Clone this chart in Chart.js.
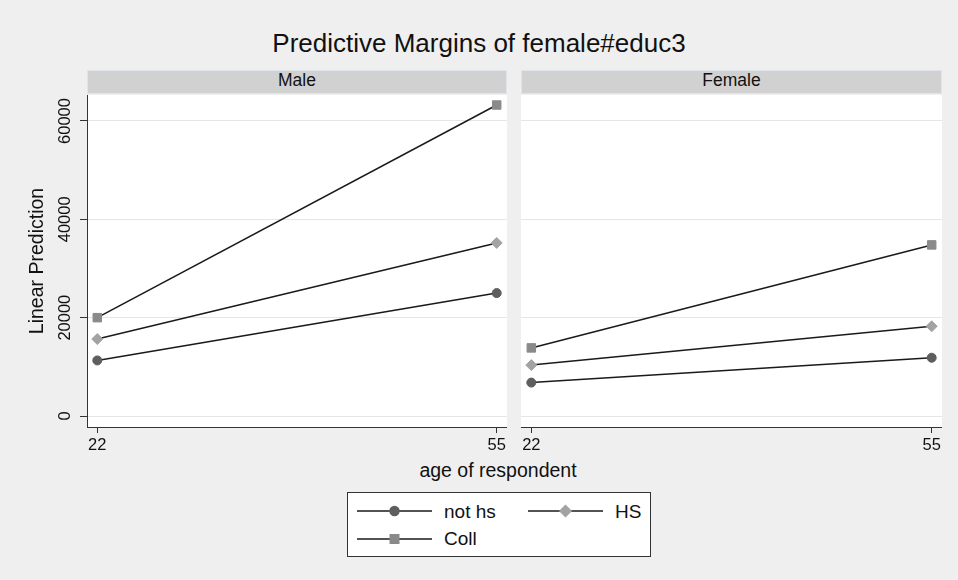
<!DOCTYPE html>
<html>
<head>
<meta charset="utf-8">
<script src="https://cdn.jsdelivr.net/npm/chart.js@4/dist/chart.umd.min.js"></script>
<style>
  body { margin: 0; background: #efefef; font-family: "Liberation Sans", Arial, sans-serif; color: #111; }
  #wrap { position: relative; width: 958px; height: 580px; overflow: hidden; background: #efefef; }
  .abs { position: absolute; }
  #title { left: 0; width: 958px; top: 30px; text-align: center; font-size: 26px; line-height: 26px; }
  .strip { top: 70px; height: 24px; line-height: 20px; background: #d1d1d1; text-align: center; font-size: 17.5px;
           box-shadow: inset 0 0 0 1px #dfe5ea; }
  #xtitle { left: 398px; width: 200px; top: 461px; text-align: center; font-size: 19.5px; line-height: 19.5px; white-space: nowrap; }
  #legend { left: 347px; top: 492px; width: 304px; height: 65px; box-sizing: border-box; background: #fff; border: 1px solid #333; }
  .item { position: absolute; display: flex; align-items: center; height: 20px; font-size: 19px; line-height: 19px; }
  .item canvas { margin-right: 12px; }
</style>
</head>
<body>
<div id="wrap">
  <div id="title" class="abs">Predictive Margins of female#educ3</div>
  <div class="abs strip" style="left:87px;width:420px;">Male</div>
  <div class="abs strip" style="left:521px;width:421px;">Female</div>
  <canvas id="male" class="abs" width="507" height="360" style="left:0;top:95px;"></canvas>
  <canvas id="female" class="abs" width="421" height="360" style="left:521px;top:95px;"></canvas>
  <div id="xtitle" class="abs">age of respondent</div>
  <div id="legend" class="abs"></div>
</div>
<script>
// data
const ages = [22, 55];
const seriesNames = ['not hs', 'HS', 'Coll'];
const maleNotHs = [11300, 25000];
const maleHs = [15650, 35200];
const maleColl = [20000, 63250];
const femaleNotHs = [6800, 11850];
const femaleHs = [10350, 18250];
const femaleColl = [13850, 34800];
const yTicks = [0, 20000, 40000, 60000];
const xTicks = [22, 55];
const yRange = [-2237, 65288];
const xRange = [21.15, 55.85];

// styles
const lineColor = '#1a1a1a';
const pointColors = ['#5e5e5e', '#a3a3a3', '#8a8a8a'];
const pointStyles = ['circle', 'rectRot', 'rect'];
const pointRadii = [4.5, 5.5, 6];
const fontFamily = '"Liberation Sans", Arial, sans-serif';

const plotBg = {
  id: 'plotBg',
  beforeDraw(chart) {
    const { ctx, chartArea: a } = chart;
    ctx.save();
    ctx.fillStyle = '#fff';
    ctx.fillRect(a.left, a.top, a.right - a.left, a.bottom - a.top);
    ctx.restore();
  }
};

function makeDatasets(values) {
  return values.map((vals, i) => ({
    label: seriesNames[i],
    data: ages.map((a, j) => ({ x: a, y: vals[j] })),
    borderColor: lineColor,
    borderWidth: 1.5,
    pointStyle: pointStyles[i],
    pointRadius: pointRadii[i],
    pointBackgroundColor: pointColors[i],
    pointBorderColor: pointColors[i],
    pointBorderWidth: 1,
    clip: false
  }));
}

function makePanel(id, values, showY) {
  const ctx = document.getElementById(id).getContext('2d');
  return new Chart(ctx, {
    type: 'line',
    data: { datasets: makeDatasets(values) },
    plugins: [plotBg],
    options: {
      responsive: false,
      animation: false,
      layout: { padding: 0, autoPadding: false },
      plugins: { legend: { display: false }, tooltip: { enabled: false } },
      scales: {
        x: {
          type: 'linear',
          min: xRange[0],
          max: xRange[1],
          afterBuildTicks: s => { s.ticks = xTicks.map(v => ({ value: v })); },
          afterFit: s => { s.height = 28; s.paddingLeft = 0; s.paddingRight = 0; },
          border: { display: true, color: '#333', width: 1 },
          grid: { drawOnChartArea: false, tickLength: 6, tickColor: '#333', tickWidth: 1 },
          ticks: {
            autoSkip: false, maxRotation: 0, padding: 3, color: '#111',
            font: { family: fontFamily, size: 16.5 },
            callback: v => String(v)
          }
        },
        y: {
          min: yRange[0],
          max: yRange[1],
          afterBuildTicks: s => { s.ticks = yTicks.map(v => ({ value: v })); },
          afterFit: s => { s.width = showY ? 87 : 0; s.paddingTop = 0; s.paddingBottom = 0; },
          border: { display: showY, color: '#333', width: 1 },
          grid: { color: '#e6e6e6', lineWidth: 1, drawTicks: showY, tickLength: 7, tickColor: '#333' },
          ticks: {
            display: showY, autoSkip: false, minRotation: 90, maxRotation: 90,
            crossAlign: 'center', padding: -8, color: '#111',
            font: { family: fontFamily, size: 16.5 },
            callback: v => String(v)
          },
          title: {
            display: showY, text: 'Linear Prediction', color: '#111',
            font: { family: fontFamily, size: 19.5 },
            padding: { top: 26, bottom: 0 }
          }
        }
      }
    }
  });
}

makePanel('male', [maleNotHs, maleHs, maleColl], true);
makePanel('female', [femaleNotHs, femaleHs, femaleColl], false);

// legend: two columns, row-major
const legend = document.getElementById('legend');
const colX = [9, 180];
const rowY = [8, 35.5];
seriesNames.forEach((name, i) => {
  const item = document.createElement('div');
  item.className = 'item';
  item.style.left = colX[i % 2] + 'px';
  item.style.top = rowY[Math.floor(i / 2)] + 'px';
  const c = document.createElement('canvas');
  c.width = 75; c.height = 16;
  const g = c.getContext('2d');
  g.strokeStyle = lineColor; g.lineWidth = 1.5;
  g.beginPath(); g.moveTo(0, 8); g.lineTo(75, 8); g.stroke();
  g.fillStyle = pointColors[i]; g.strokeStyle = pointColors[i];
  Chart.helpers.drawPoint(g, { pointStyle: pointStyles[i], radius: pointRadii[i], borderWidth: 1, rotation: 0 }, 37.5, 8);
  const span = document.createElement('span');
  span.textContent = name;
  item.appendChild(c);
  item.appendChild(span);
  legend.appendChild(item);
});
</script>
</body>
</html>
